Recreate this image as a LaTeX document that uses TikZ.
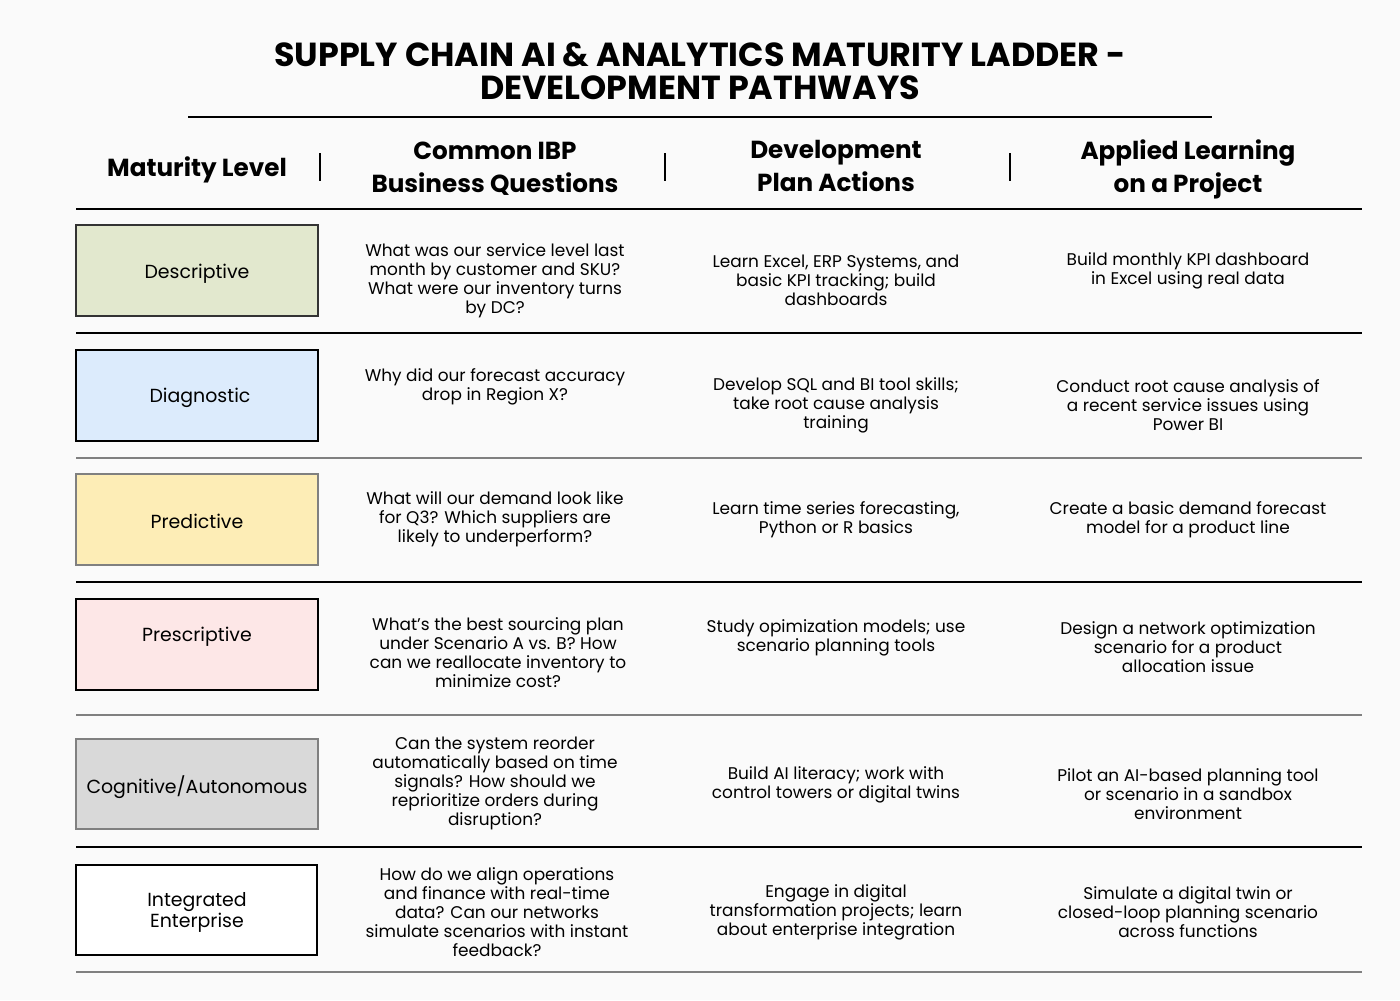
\documentclass[tikz,border=0pt]{standalone}
\usepackage{fontspec}
\setmainfont{Poppins}
\definecolor{pagebg}{HTML}{FAFAFA}
\definecolor{descfill}{HTML}{E2E8CE}
\definecolor{diagfill}{HTML}{DCEBFC}
\definecolor{predfill}{HTML}{FDEDB6}
\definecolor{presfill}{HTML}{FDE7E7}
\definecolor{cognfill}{HTML}{D9D9D9}
\definecolor{rulegray}{HTML}{808080}
\tikzset{
	levelbox/.style={draw, line width=1pt},
	leveltext/.style={font=\fontsize{14.2}{15.8}\selectfont, align=center, yshift=-2pt},
	celltext/.style={font=\fontsize{12.7}{14.25}\selectfont, align=center, yshift=-1.2pt},
	headtext/.style={font=\fontsize{18.5}{24.75}\selectfont\bfseries, align=center, yshift=-1.8pt},
	thinrule/.style={line width=1pt, black},
	thickrule/.style={line width=1.9pt, rulegray}
}
\begin{document}
\begin{tikzpicture}[x=0.75pt, y=-0.75pt]
	\fill[pagebg] (0,0) rectangle (1400,1000);
	\useasboundingbox (0,0) rectangle (1400,1000);

	\node (title) [font=\fontsize{25}{24.75}\selectfont\bfseries, align=center, yshift=-0.8pt] at(700,70.5){SUPPLY CHAIN AI \& ANALYTICS MATURITY LADDER -\\DEVELOPMENT PATHWAYS};
	\draw [line width=1.5pt](188,117) -- (1212,117);

	% column heads
	\node (hlevel) [headtext] at(197,167){Maturity Level};
	\node (hquest) [headtext] at(495,166.5){Common IBP\\Business Questions};
	\node (hplan) [headtext] at(836,164){Development\\Plan Actions};
	\node (hproj) [headtext] at(1188,166.5){Applied Learning\\on a Project};
	\draw [line width=1pt](320,153) -- (320,181);
	\draw [line width=1pt](665,153) -- (665,181);
	\draw [line width=1pt](1010,153) -- (1010,181);
	\draw [line width=1.5pt](76,209) -- (1362,209);

	% Descriptive
	\draw [levelbox, fill=descfill, draw=black!80](76,225) rectangle (318,316);
	\node (desc) [leveltext] at(197,271){Descriptive};
	\node (descq) [celltext] at(495,279.5){What was our service level last\\month by customer and SKU?\\What were our inventory turns\\by DC?};
	\node (descp) [celltext] at(836,279){Learn Excel, ERP Systems, and\\basic KPI tracking; build\\dashboards};
	\node (descj) [celltext] at(1188,269.5){Build monthly KPI dashboard\\in Excel using real data};
	\draw [thinrule](76,333) -- (1362,333);

	% Diagnostic
	\draw [levelbox, fill=diagfill](76,350) rectangle (318,441);
	\node (diag) [leveltext] at(200,395){Diagnostic};
	\node (diagq) [celltext] at(495,385.5){Why did our forecast accuracy\\drop in Region X?};
	\node (diagp) [celltext] at(836,404){Develop SQL and BI tool skills;\\take root cause analysis\\training};
	\node (diagj) [celltext] at(1188,404){Conduct root cause analysis of\\a recent service issues using\\Power BI};
	\draw [thickrule](76,458) -- (1362,458);

	% Predictive
	\draw [levelbox, fill=predfill, draw=rulegray](76,474) rectangle (318,565);
	\node (pred) [leveltext] at(197,519){Predictive};
	\node (predq) [celltext] at(495,518){What will our demand look like\\for Q3? Which suppliers are\\likely to underperform?};
	\node (predp) [celltext] at(836,518.5){Learn time series forecasting,\\Python or R basics};
	\node (predj) [celltext] at(1188,518.5){Create a basic demand forecast\\model for a product line};
	\draw [thinrule](76,582) -- (1362,582);

	% Prescriptive
	\draw [levelbox, fill=presfill](76,599) rectangle (318,690);
	\node (pres) [leveltext] at(197,634){Prescriptive};
	\node (presq) [celltext] at(498,651.5){What’s the best sourcing plan\\under Scenario A vs. B? How\\can we reallocate inventory to\\minimize cost?};
	\node (presp) [celltext] at(836,636.5){Study opimization models; use\\scenario planning tools};
	\node (presj) [celltext] at(1188,646){Design a network optimization\\scenario for a product\\allocation issue};
	\draw [thickrule](76,715) -- (1362,715);

	% Cognitive/Autonomous
	\draw [levelbox, fill=cognfill, draw=rulegray](76,739) rectangle (318,829);
	\node (cogn) [leveltext] at(197,784){Cognitive/Autonomous};
	\node (cognq) [celltext] at(495,782){Can the system reorder\\automatically based on time\\signals? How should we\\reprioritize orders during\\disruption?};
	\node (cognp) [celltext] at(836,783.5){Build AI literacy; work with\\control towers or digital twins};
	\node (cognj) [celltext] at(1188,793){Pilot an AI-based planning tool\\or scenario in a sandbox\\environment};
	\draw [thinrule](76,847) -- (1362,847);

	% Integrated Enterprise
	\draw [levelbox, fill=white, line width=1.9pt](76,865) rectangle (317,955);
	\node (intg) [leveltext] at(197,909.5){Integrated\\Enterprise};
	\node (intgq) [celltext] at(497,911){How do we align operations\\and finance with real-time\\data? Can our networks\\simulate scenarios with instant\\feedback?};
	\node (intgp) [celltext] at(836,911){Engage in digital\\transformation projects; learn\\about enterprise integration};
	\node (intgj) [celltext] at(1188,911){Simulate a digital twin or\\closed-loop planning scenario\\across functions};
	\draw [thickrule](76,972) -- (1362,972);
\end{tikzpicture}
\end{document}
